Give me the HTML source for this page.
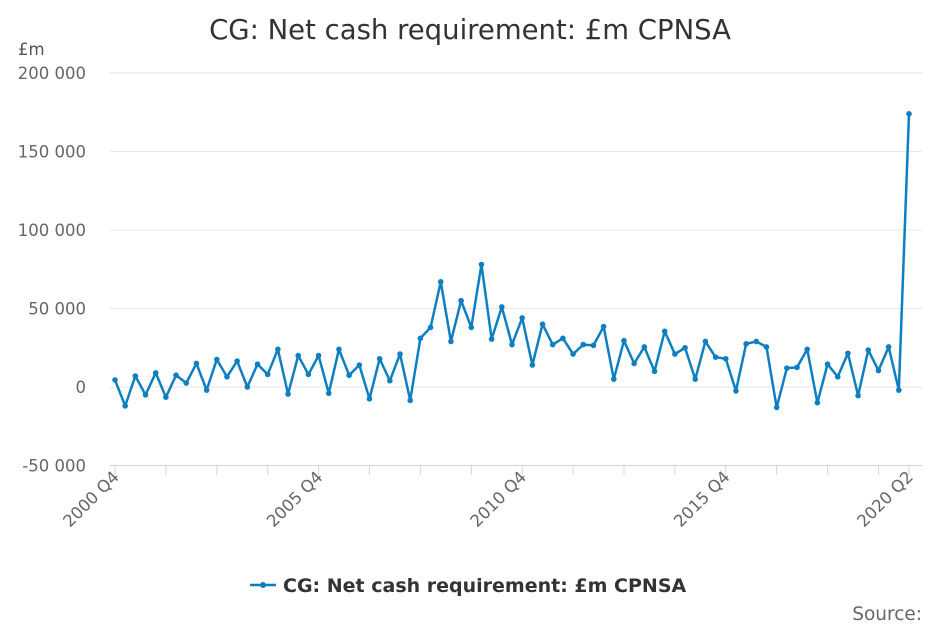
<!DOCTYPE html>
<html><head><meta charset="utf-8"><style>
body{margin:0;background:#fff;font-family:"DejaVu Sans","Liberation Sans",sans-serif;}
#wrap{position:relative;width:939px;height:625px;overflow:hidden;}
svg text{font-family:"DejaVu Sans","Liberation Sans",sans-serif;}
</style></head><body>
<div id="wrap">
<svg id="chart" width="939" height="625"></svg>
</div>
<script>
const categoriesStart = [2000, 4];
const seriesValues = [4.5,-12,7,-5,9,-6.5,7.5,2.5,15,-2,17.5,6.5,16.5,0,14.5,8,24,-4.5,20,8,20,-4,24,7.5,14,-7.5,18,4,21,-8.5,31,38,67,29,55,38,78,30.5,51,27,44,14,40,27,31,21,27,26.5,38.5,5,29.5,15,25.5,10,35.5,21,25,5,29,19,18,-2.5,27.5,29,25.5,-13,12,12.5,24,-10,14.5,6.5,21.5,-5.5,23.5,10.5,25.5,-2,174];
const yTicks = [-50000,0,50000,100000,150000,200000];
const xLabelIdx = [0,20,40,60,78];

const NS="http://www.w3.org/2000/svg";
const svg=document.getElementById('chart');
function mk(t,a){const e=document.createElementNS(NS,t);for(const k in a)e.setAttribute(k,a[k]);svg.appendChild(e);return e;}
const X0=115,X1=909,Y0=387,YS=314/200000;
const n=seriesValues.length;
const xs=i=>X0+(X1-X0)*i/(n-1);
const ys=v=>Y0-v*YS;
function label(i){let q=categoriesStart[1]-1+i;return (categoriesStart[0]+Math.floor(q/4))+' Q'+(q%4+1);}
function fmt(v){const s=Math.abs(v).toString().replace(/\B(?=(\d{3})+(?!\d))/g,' ');return (v<0?'-':'')+s;}

let t=mk('text',{x:470,y:39,'text-anchor':'middle','font-size':27.5,fill:'#333'});t.textContent='CG: Net cash requirement: £m CPNSA';

t=mk('text',{x:18,y:55,'font-size':16.5,fill:'#555'});t.textContent='£m';


yTicks.forEach(v=>{
 const l=mk('line',{x1:110,x2:922,y1:ys(v),y2:ys(v),stroke:v===-50000?'#ccd6eb':'#e6e6e6','stroke-width':1});
 
 const tx=mk('text',{x:86,y:ys(v)+6,'text-anchor':'end','font-size':16.5,fill:'#666'});tx.textContent=fmt(v);
 
});
for(let i=0;i<n;i+=5){
 const l=mk('line',{x1:xs(i),x2:xs(i),y1:465,y2:475,stroke:'#ccd6eb'});
 
}
mk('line',{x1:X1,x2:X1,y1:465,y2:475,stroke:'#ccd6eb'});
xLabelIdx.forEach(i=>{
 const x=xs(i)+5,y=478;
 const tx=mk('text',{x:x,y:y,'text-anchor':'end','font-size':16.5,fill:'#666',transform:`rotate(-45 ${x} ${y})`});
 tx.textContent=label(i);
 
});
const pts=seriesValues.map((v,i)=>xs(i)+','+ys(v*1000)).join(' ');
const pl=mk('polyline',{points:pts,fill:'none',stroke:'#0f7fc2','stroke-width':2.5,'stroke-linejoin':'round'});

seriesValues.forEach((v,i)=>{
 const c=mk('circle',{cx:xs(i),cy:ys(v*1000),r:2.8,fill:'#0f7fc2'});
 
});
const lg=mk('line',{x1:250,x2:276,y1:585,y2:585,stroke:'#0f7fc2','stroke-width':2.5});

const lc=mk('circle',{cx:263,cy:585,r:3,fill:'#0f7fc2'});

t=mk('text',{x:283,y:592,'font-size':19,'font-weight':'bold',fill:'#333'});t.textContent='CG: Net cash requirement: £m CPNSA';

t=mk('text',{x:922,y:620,'text-anchor':'end','font-size':18.5,fill:'#666'});t.textContent='Source:';

</script>
</body></html>
